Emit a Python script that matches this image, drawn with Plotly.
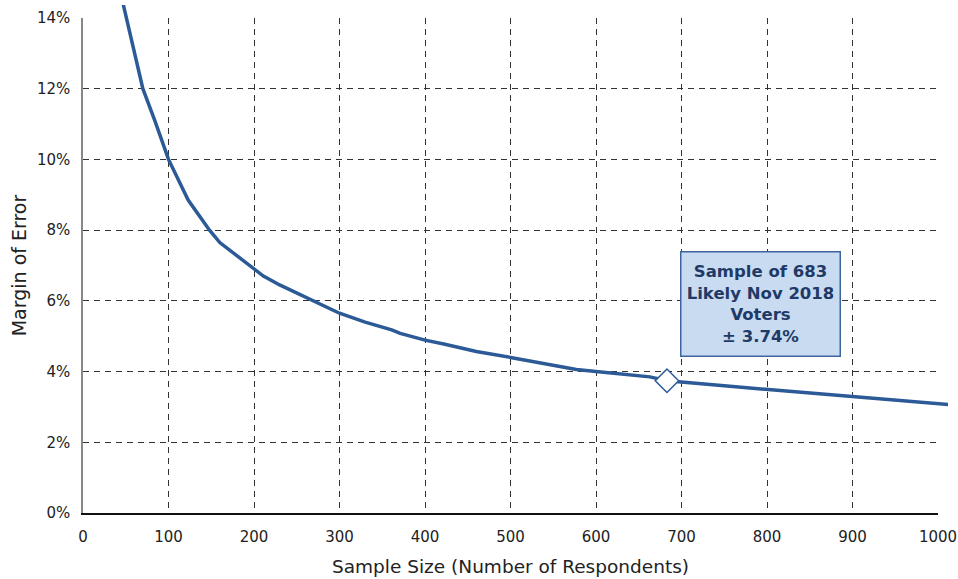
import plotly.graph_objects as go

# Data
sample_sizes = [45, 50, 65, 70, 84, 100, 123, 148, 160, 211, 230, 254, 300, 330, 361, 371,
                400, 422, 460, 500, 540, 577, 600, 663, 683, 700, 750, 798, 898, 1000, 1012]
margin_pct = [14.6, 14.1, 12.5, 12.0, 11.1, 10.0, 8.85, 8.0, 7.65, 6.7, 6.45, 6.17, 5.65,
              5.40, 5.18, 5.08, 4.89, 4.78, 4.57, 4.40, 4.22, 4.06, 4.0, 3.85, 3.74, 3.71,
              3.60, 3.50, 3.29, 3.10, 3.07]
highlight_n = [683]
highlight_moe = [3.74]
annotation_text = "<b>Sample of 683<br>Likely Nov 2018<br>Voters<br>± 3.74%</b>"
x_ticks = [0, 100, 200, 300, 400, 500, 600, 700, 800, 900, 1000]
y_ticks = [0, 2, 4, 6, 8, 10, 12, 14]
y_tick_labels = ["0%", "2%", "4%", "6%", "8%", "10%", "12%", "14%"]

W, H = 958, 579
ML, MR, MT, MB = 83, 10, 5, 66
plot_w = W - ML - MR
plot_h = H - MT - MB
main_w = 855
main_h = 495
xd1 = main_w / plot_w
yd1 = main_h / plot_h
x2max = 1000 * plot_w / main_w
y2max = 14 * plot_h / main_h

line_color = "#2b5a97"
font_family = "DejaVu Sans"

fig = go.Figure()
fig.add_trace(go.Scatter(x=[None], y=[None], xaxis="x", yaxis="y", showlegend=False,
                         hoverinfo="skip"))
fig.add_trace(go.Scatter(x=sample_sizes, y=margin_pct, mode="lines", xaxis="x2", yaxis="y2",
                         line=dict(color=line_color, width=3.5),
                         showlegend=False))
fig.add_trace(go.Scatter(x=highlight_n, y=highlight_moe, mode="markers", xaxis="x2", yaxis="y2",
                         marker=dict(symbol="diamond", size=18, color="white",
                                     line=dict(color=line_color, width=1.5)),
                         showlegend=False))

grid = dict(showgrid=True, gridcolor="#333333", gridwidth=1, griddash="6px,5px",
            zeroline=False, automargin=False)

fig.update_layout(
    width=W, height=H,
    margin=dict(l=ML, r=MR, t=MT, b=MB, autoexpand=False),
    paper_bgcolor="white", plot_bgcolor="rgba(0,0,0,0)",
    font=dict(family=font_family, color="#222222"),
    xaxis=dict(domain=[0, xd1], range=[0, 1000], tickvals=x_ticks, anchor="y",
               showline=True, linecolor="#111111", linewidth=1.5,
               tickfont=dict(size=15), ticks="", ticklabelstandoff=9,
               title=dict(text="Sample Size (Number of Respondents)", font=dict(size=18.5),
                          standoff=15),
               **grid),
    yaxis=dict(domain=[0, yd1], range=[0, 14], tickvals=y_ticks, ticktext=y_tick_labels,
               anchor="x",
               showline=True, linecolor="#888888", linewidth=1.5,
               tickfont=dict(size=15), ticks="", ticklabelstandoff=8,
               title=dict(text="Margin of Error", font=dict(size=19), standoff=5),
               **grid),
    xaxis2=dict(domain=[0, 1], range=[0, x2max], anchor="y2", visible=False),
    yaxis2=dict(domain=[0, 1], range=[0, y2max], anchor="x2", visible=False),
    annotations=[dict(x=792, y=5.92, xref="x", yref="y", text=annotation_text,
                      showarrow=False, font=dict(size=16.5, color="#1f3a66", family=font_family),
                      bgcolor="#c9dbf0", bordercolor="#3d64a0", borderwidth=1.5,
                      width=146, height=91, borderpad=6, align="center", valign="middle")],
)

fig.write_html("out.html", config={"displayModeBar": False},
               post_script="document.body.style.margin='0';document.body.style.overflow='hidden';")
